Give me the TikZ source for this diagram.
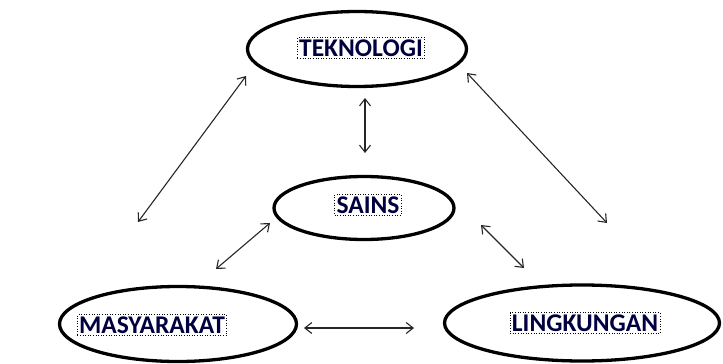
\documentclass[tikz,border=0pt]{standalone}
\usepackage{fontspec}
\setmainfont{Carlito}
\usetikzlibrary{shapes.geometric,arrows.meta}
\tikzset{
  oval/.style={ellipse,draw=black,line width=3.3pt,inner sep=0pt},
  lbl/.style={draw=black,dotted,line width=0.6pt,inner sep=1.8pt,text=black!75!blue,font=\fontsize{25.5}{25.5}\selectfont\bfseries},
  link/.style={line width=1.1pt,draw=black!85,{Straight Barb[length=7pt,width=11pt]}-{Straight Barb[length=7pt,width=11pt]}}
}
\begin{document}
\begin{tikzpicture}[x=1pt,y=-1pt]
\useasboundingbox (0,0) rectangle (723,364);
\node[oval,minimum width=219pt,minimum height=75pt] (tek) at (357,49) {};
\node[oval,minimum width=180pt,minimum height=63pt] (sai) at (364,208) {};
\node[oval,minimum width=237pt,minimum height=75pt] (mas) at (178,324) {};
\node[oval,minimum width=275pt,minimum height=76pt] (lin) at (582,323) {};
\node[lbl] (tekL) at (361,48) {TEKNOLOGI};
\node[lbl] (saiL) at (368,205) {SAINS};
\node[lbl] (masL) at (152,325) {MASYARAKAT};
\node[lbl] (linL) at (585,323) {LINGKUNGAN};
\coordinate (a1) at (365,98);  \coordinate (b1) at (365,153);
\coordinate (a2) at (246,76);  \coordinate (b2) at (138,222);
\coordinate (a3) at (467,73);  \coordinate (b3) at (607,223);
\coordinate (a4) at (270,223); \coordinate (b4) at (216,269);
\coordinate (a5) at (481,225); \coordinate (b5) at (524,268);
\coordinate (a6) at (304,328); \coordinate (b6) at (414,328);
\draw[link] (a1) -- (b1);
\draw[link] (a2) -- (b2);
\draw[link] (a3) -- (b3);
\draw[link] (a4) -- (b4);
\draw[link] (a5) -- (b5);
\draw[link] (a6) -- (b6);
\end{tikzpicture}
\end{document}
